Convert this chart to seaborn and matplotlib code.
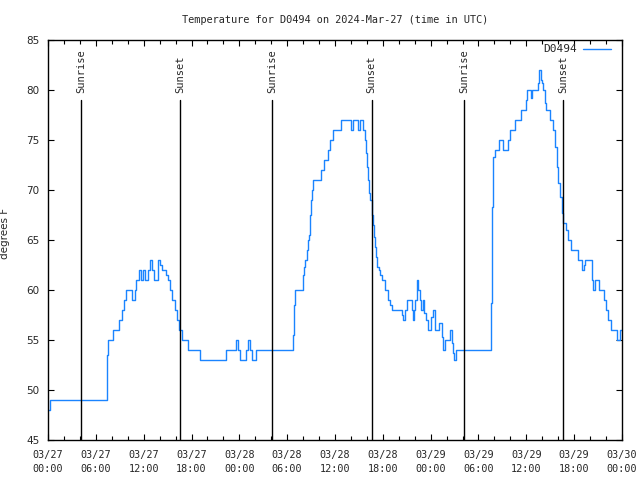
import matplotlib
matplotlib.use("Agg")
import matplotlib.pyplot as plt
from matplotlib.ticker import MultipleLocator, FixedLocator
import seaborn as sns
import pandas as pd

# ---- data (hours since 2024-03-27 00:00 UTC, temperature in F) ----
hours = [0.0, 0.25, 7.36, 7.45, 7.57, 8.2, 8.9, 9.28, 9.58, 9.78, 10.5, 10.96, 11.04, 11.46,
         11.7, 11.95, 12.15, 12.5, 12.8, 13.0, 13.3, 13.75, 13.84, 14.1, 14.26, 14.85, 15.0,
         15.3, 15.6, 15.93, 16.2, 16.47, 16.81, 17.6, 19.07, 22.3, 23.58, 23.8, 24.08, 24.8,
         25.13, 25.35, 25.55, 26.09, 30.77, 30.87, 30.98, 31.95, 32.1, 32.24, 32.5, 32.65,
         32.75, 32.87, 33.0, 33.1, 33.2, 34.2, 34.67, 35.17, 35.4, 35.7, 36.7, 38.0, 38.2,
         38.92, 39.14, 39.55, 39.75, 39.9, 40.05, 40.18, 40.3, 40.45, 40.6, 40.75, 40.9, 41.0,
         41.1, 41.23, 41.5, 41.7, 41.86, 42.3, 42.6, 42.85, 43.1, 44.4, 44.57, 44.75, 45.08,
         45.6, 45.75, 45.9, 46.05, 46.25, 46.4, 46.6, 46.79, 47.0, 47.17, 47.4, 47.7, 48.0,
         48.33, 48.54, 49.1, 49.38, 49.59, 49.8, 50.43, 50.64, 50.84, 50.97, 51.18, 55.57,
         55.7, 55.86, 56.07, 56.61, 57.1, 57.75, 57.96, 58.58, 59.29, 59.96, 60.13, 60.59,
         60.76, 61.42, 61.63, 61.8, 61.95, 62.13, 62.3, 62.47, 62.97, 63.39, 63.6, 63.8, 64.0,
         64.2, 64.44, 64.64, 64.98, 65.27, 65.57, 66.52, 66.95, 67.2, 67.36, 68.24, 68.41,
         68.66, 69.16, 69.75, 70.0, 70.29, 70.59, 71.34, 71.75, 72.0]
temps = [48, 49, 50.5, 53.5, 55, 56, 57, 58, 59, 60, 59, 60, 61, 62,
         61, 62, 61, 62, 63, 62, 61, 62.5, 63, 62.5, 62, 61.5, 61,
         60, 59, 58, 57, 56, 55, 54, 53, 54, 55, 54, 53, 54,
         55, 54, 53, 54, 55.5, 58.5, 60, 61.5, 62.3, 63, 64, 65,
         65.5, 67.5, 69, 70, 71, 72, 73, 74, 75, 76, 77, 76, 77,
         76, 77, 76, 75, 73.7, 72.3, 71, 69.7, 69, 67.5, 66.5, 65.3, 64.3,
         63.3, 62.3, 62, 61.5, 61, 60, 59, 58.5, 58, 57.5, 57, 58, 59,
         58, 57, 58, 59, 61, 60, 59, 58, 59, 57.7, 57, 56, 57.3,
         58, 56, 56.7, 55.3, 54, 55, 56, 54.7, 53.7, 53, 54, 58.7,
         68.3, 73.3, 74, 75, 74, 75, 76, 77, 78, 79, 80, 79.2,
         80, 80.7, 82, 81, 80.7, 80, 78.7, 78, 77, 76, 74.3, 72.3, 70.7,
         69.3, 67.7, 66.7, 66, 65, 64, 63, 62, 62.5, 63, 61, 60,
         61, 60, 59, 58, 57, 56, 55, 56, 56]

sunrise_hours = [4.17, 28.13, 52.2]
sunset_hours = [16.58, 40.6, 64.62]

xtick_hours = [0, 6, 12, 18, 24, 30, 36, 42, 48, 54, 60, 66, 72]
xtick_labels = ["03/27\n00:00", "03/27\n06:00", "03/27\n12:00", "03/27\n18:00",
                "03/28\n00:00", "03/28\n06:00", "03/28\n12:00", "03/28\n18:00",
                "03/29\n00:00", "03/29\n06:00", "03/29\n12:00", "03/29\n18:00",
                "03/30\n00:00"]
yticks = [45, 50, 55, 60, 65, 70, 75, 80, 85]

title = "Temperature for D0494 on 2024-Mar-27 (time in UTC)"
station = "D0494"

# ---- plot ----
sns.set_theme(style="ticks")
plt.rcParams['font.family'] = ['DejaVu Sans Mono']
mono = 'DejaVu Sans Mono'
sans = 'DejaVu Sans'

fig = plt.figure(figsize=(6.4, 4.8), dpi=100)
ax = fig.add_axes([48 / 640, 40 / 480, 574 / 640, 400 / 480])

df = pd.DataFrame({"hour": hours, "temp": temps})
sns.lineplot(data=df, x="hour", y="temp", estimator=None, sort=False,
             drawstyle="steps-post", color="#1a84ff", linewidth=1.0,
             label=station, ax=ax)

for h in sunrise_hours:
    ax.axvline(h, ymin=0, ymax=0.85, color="black", linewidth=1.0)
    ax.text(h, 0.868, "Sunrise", transform=ax.get_xaxis_transform(), rotation=90,
            ha="center", va="bottom", fontsize=7.5, family=mono)
for h in sunset_hours:
    ax.axvline(h, ymin=0, ymax=0.85, color="black", linewidth=1.0)
    ax.text(h, 0.868, "Sunset", transform=ax.get_xaxis_transform(), rotation=90,
            ha="center", va="bottom", fontsize=7.5, family=mono)

ax.set_xlim(0, 72)
ax.set_ylim(45, 85)
ax.xaxis.set_major_locator(FixedLocator(xtick_hours))
ax.set_xticklabels(xtick_labels, family=mono, fontsize=7.3, linespacing=1.55)
ax.xaxis.set_minor_locator(MultipleLocator(2))
ax.set_yticks(yticks)
ax.set_yticklabels([str(v) for v in yticks], family=sans, fontsize=7.5)

for s in ax.spines.values():
    s.set_visible(True)
    s.set_color("black")
    s.set_linewidth(1.0)

ax.tick_params(axis="both", which="both", direction="in", top=True, right=True,
               color="black", width=0.8)
ax.tick_params(axis="x", which="major", length=4, pad=7)
ax.tick_params(axis="x", which="minor", length=3)
ax.tick_params(axis="y", which="major", length=4, pad=6)

ax.set_xlabel("")
ax.set_ylabel("degrees F", family=sans, fontsize=7.5)
ax.yaxis.set_label_coords(-(48 - 10) / 574, 0.5175)
ax.set_title(title, family=mono, fontsize=7.4, pad=12)

ax.grid(False)
leg = ax.legend(loc="upper right", bbox_to_anchor=(0.9885, 1.0), frameon=False,
                markerfirst=False, handlelength=2.5, handletextpad=0.6,
                borderaxespad=0.0, borderpad=0.4,
                prop={"family": mono, "size": 8})

fig.savefig("out.png", dpi=100)
